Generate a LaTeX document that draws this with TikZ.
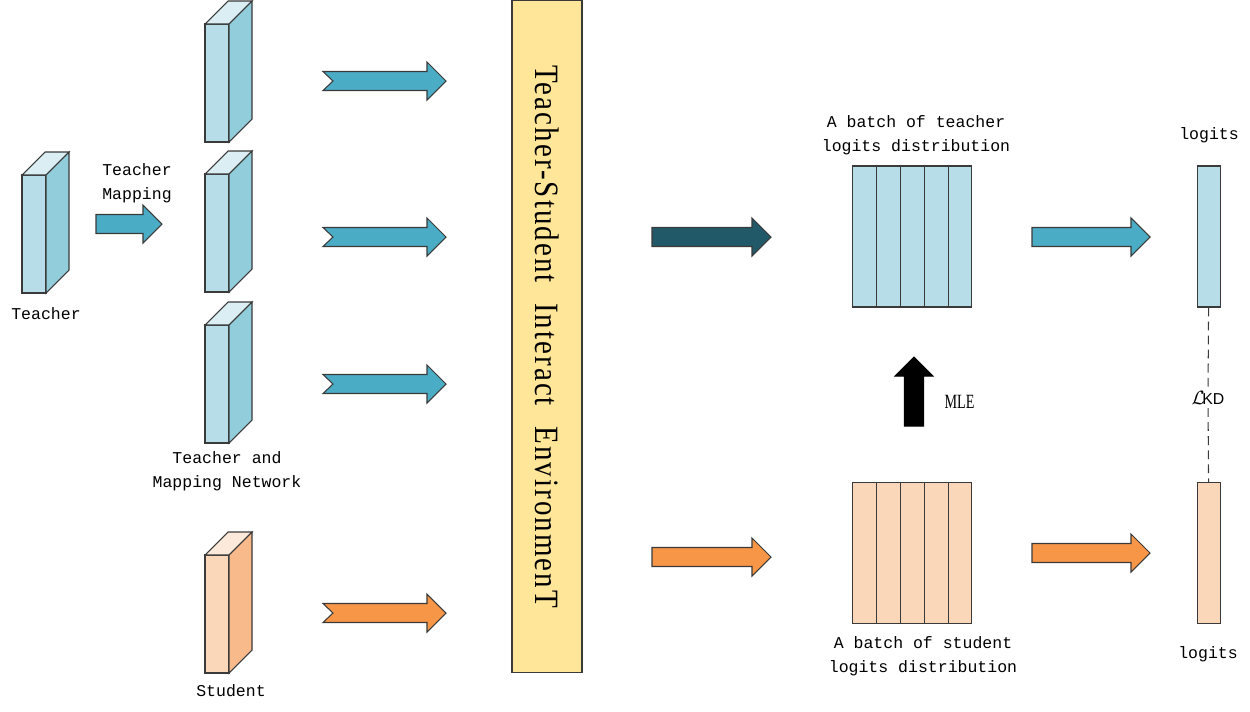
\documentclass[tikz,border=0pt]{standalone}
\usepackage{fontspec}
\setmainfont{Liberation Serif}
\setsansfont{Liberation Sans}
\newfontfamily\monofont{Liberation Mono}
\newfontfamily\envfont[FakeStretch=0.85,LetterSpace=6,WordSpace=2.2]{Liberation Serif}
\usetikzlibrary{positioning}

\definecolor{tfront}{HTML}{B7DEE8}
\definecolor{tside}{HTML}{92CDDC}
\definecolor{ttop}{HTML}{DAEEF3}
\definecolor{sfront}{HTML}{FBD7B9}
\definecolor{sside}{HTML}{F8B98B}
\definecolor{stop}{HTML}{FDE9D9}
\definecolor{tarrow}{HTML}{4BACC6}
\definecolor{sarrow}{HTML}{F79646}
\definecolor{darrow}{HTML}{215968}
\definecolor{envfill}{HTML}{FFE699}
\definecolor{edge}{HTML}{3A3A3A}

\tikzset{
  pics/slab/.style n args={3}{code={
    \draw[edge,fill=#1] (0,0) rectangle (24,118);
    \draw[edge,fill=#3] (0,0) -- (23,-23) -- (47,-23) -- (24,0) -- cycle;
    \draw[edge,fill=#2] (24,0) -- (47,-23) -- (47,95) -- (24,118) -- cycle;
  }},
  pics/barrow/.style 2 args={code={
    \draw[pic actions] (0,-9.5) -- (#1-19,-9.5) -- (#1-19,-19) -- (#1,0)
      -- (#1-19,19) -- (#1-19,9.5) -- (0,9.5) -- (#2,0) -- cycle;
  }},
}

\begin{document}
\begin{tikzpicture}[x=0.02cm,y=-0.02cm,line width=0.6pt,
  lbl/.style={font=\monofont\fontsize{9.4}{13.4}\selectfont,align=center,inner sep=0pt},
  col/.style={draw=edge,minimum width=0.476cm,minimum height=2.82cm,inner sep=0pt},
  tflow/.style={draw=edge,fill=tarrow},
  sflow/.style={draw=edge,fill=sarrow}]
  \useasboundingbox (0,0) rectangle (1250,711);

  % teacher and mapped networks
  \pic at (22,175) {slab={tfront}{tside}{ttop}};
  \node[lbl] (tname) at (46,314) {Teacher};
  \pic[tflow] at (96,224) {barrow={66}{0}};
  \node[lbl] (tmap) at (137,183) {Teacher\\Mapping};
  \foreach \y in {24,174,325}
    \pic at (205,\y) {slab={tfront}{tside}{ttop}};
  \node[lbl] (tnet) at (227,471) {Teacher and\\Mapping Network};
  \pic at (205,555) {slab={sfront}{sside}{stop}};
  \node[lbl] (sname) at (231,691) {Student};

  % into the environment
  \foreach \y in {81,237,384}
    \pic[tflow] at (323,\y) {barrow={123}{10}};
  \pic[sflow] at (323,613) {barrow={123}{10}};
  \node[draw=edge,fill=envfill,minimum width=1.4cm,minimum height=13.46cm,inner sep=0pt] (env) at (547,336.5) {};
  \node[rotate=-90,font=\envfont\fontsize{19.4}{20}\selectfont] (envtext) at (env.center) {Teacher-Student Interact EnvironmenT};

  % out of the environment
  \pic[draw=edge,fill=darrow] at (652,237) {barrow={119}{0}};
  \pic[sflow] at (652,557) {barrow={119}{0}};

  % batches
  \foreach \i in {1,...,5}{
    \node[col,fill=tfront] (tb\i) at (841+\i*23.8,236.5) {};
    \node[col,fill=sfront] (sb\i) at (841+\i*23.8,553) {};
  }
  \node[lbl] (tbatch) at (916,135) {A batch of teacher\\logits distribution};
  \node[lbl] (sbatch) at (923,656) {A batch of student\\logits distribution};
  \pic[fill=black] at (914,426) [rotate=90] {barrow={69}{0}};
  \node[font=\fontsize{11.5}{12}\selectfont] (mle) at (959.5,402) {\scalebox{0.7}[1]{MLE}};

  % logits
  \pic[tflow] at (1032,237) {barrow={118}{0}};
  \pic[sflow] at (1032,553) {barrow={118}{0}};
  \node[col,fill=tfront] (tlog) at (1209,236.5) {};
  \node[col,fill=sfront] (slog) at (1209,553) {};
  \node[lbl] (tlogit) at (1209,135) {logits};
  \node[lbl] (slogit) at (1208,654) {logits};
  \node[inner sep=2pt] (kd) at (1208,397.5) {\fontsize{11}{12}\selectfont$\mathcal{L}$\kern-1.5pt\textsf{\fontsize{9}{10}\selectfont KD}};
  \draw[edge,dash pattern=on 5pt off 3pt] (tlog) -- (kd);
  \draw[edge,dash pattern=on 5pt off 3pt] (kd) -- (slog);
\end{tikzpicture}
\end{document}
